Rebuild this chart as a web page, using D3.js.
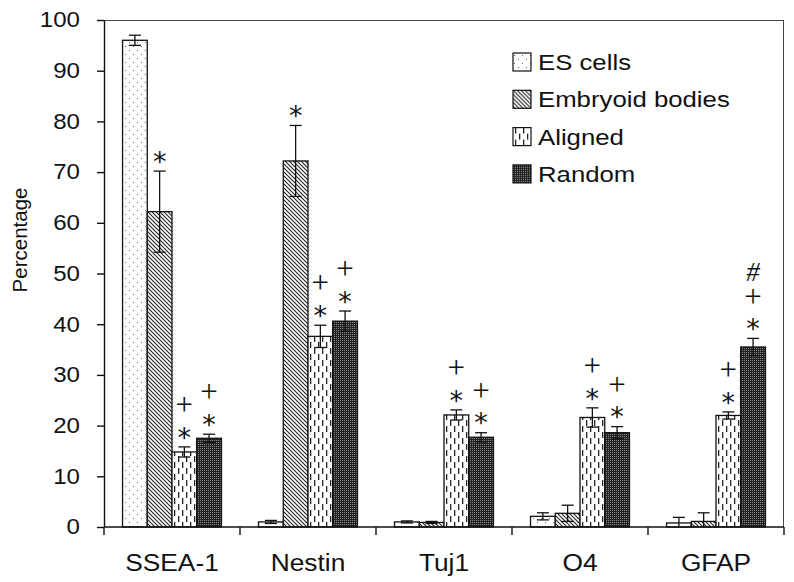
<!DOCTYPE html>
<html>
<head>
<meta charset="utf-8">
<script src="https://cdn.jsdelivr.net/npm/d3@7"></script>
<style>
  html, body { margin: 0; padding: 0; background: #fff; }
  svg { display: block; }
  text { font-family: "Liberation Sans", Arial, sans-serif; fill: #111; }
</style>
</head>
<body>
<svg id="chart" width="794" height="582"></svg>
<script>
// ---- data ----
const categories = ["SSEA-1", "Nestin", "Tuj1", "O4", "GFAP"];
const seriesNames = ["ES cells", "Embryoid bodies", "Aligned", "Random"];
const esCells        = [96.0, 1.0, 1.0, 2.1, 0.8];
const embryoidBodies = [62.2, 72.2, 0.9, 2.7, 1.1];
const aligned        = [14.8, 37.6, 22.1, 21.6, 22.0];
const random         = [17.5, 40.6, 17.7, 18.6, 35.5];
const esErr          = [1.0, 0.3, 0.2, 0.7, 1.1];
const ebErr          = [8.0, 7.0, 0.2, 1.6, 1.7];
const alignedErr     = [1.0, 2.2, 1.0, 1.9, 0.7];
const randomErr      = [0.8, 2.0, 0.9, 1.2, 1.7];
// significance marks, listed bottom-to-top above each bar
const esMarks        = ["", "", "", "", ""];
const ebMarks        = ["*", "*", "", "", ""];
const alignedMarks   = ["*+", "*+", "*+", "*+", "*+"];
const randomMarks    = ["*+", "*+", "*+", "*+", "*+#"];
const yTicks = [0, 10, 20, 30, 40, 50, 60, 70, 80, 90, 100];
const yLabel = "Percentage";

const values = [esCells, embryoidBodies, aligned, random];
const errors = [esErr, ebErr, alignedErr, randomErr];
const marks  = [esMarks, ebMarks, alignedMarks, randomMarks];
const patternIds = ["pES", "pEB", "pAL", "pRA"];

// ---- layout ----
const svg = d3.select("#chart");
const mLeft = 104, mRight = 784, mTop = 20, mBottom = 527;
const stretch = 1.12; // horizontal text stretch seen in the reference

const x = d3.scaleBand().domain(categories).range([mLeft, mRight]).paddingInner(0).paddingOuter(0);
const xs = d3.scaleBand().domain(seriesNames).range([0, x.bandwidth()]).paddingInner(0).paddingOuter(0.75);
const y = d3.scaleLinear().domain([0, 100]).range([mBottom, mTop]);

// ---- patterns ----
const defs = svg.append("defs");
let p = defs.append("pattern").attr("id", "pES").attr("patternUnits", "userSpaceOnUse").attr("width", 8).attr("height", 8);
p.append("rect").attr("width", 8).attr("height", 8).attr("fill", "#fff");
p.append("rect").attr("x", 1).attr("y", 2).attr("width", 1).attr("height", 1).attr("fill", "#666");
p.append("rect").attr("x", 5).attr("y", 6).attr("width", 1).attr("height", 1).attr("fill", "#666");
p = defs.append("pattern").attr("id", "pEB").attr("patternUnits", "userSpaceOnUse").attr("width", 4).attr("height", 4);
p.append("rect").attr("width", 4).attr("height", 4).attr("fill", "#fff");
p.append("path").attr("d", "M-1,-1 L5,5 M-1,3 L1,5 M3,-1 L5,1").attr("stroke", "#222").attr("stroke-width", 1.1);
p = defs.append("pattern").attr("id", "pAL").attr("patternUnits", "userSpaceOnUse").attr("width", 8).attr("height", 12);
p.append("rect").attr("width", 8).attr("height", 12).attr("fill", "#fff");
p.append("rect").attr("x", 2).attr("y", 0).attr("width", 1.3).attr("height", 6).attr("fill", "#222");
p.append("rect").attr("x", 6).attr("y", 6).attr("width", 1.3).attr("height", 6).attr("fill", "#222");
p = defs.append("pattern").attr("id", "pRA").attr("patternUnits", "userSpaceOnUse").attr("width", 2).attr("height", 2);
p.append("rect").attr("width", 2).attr("height", 2).attr("fill", "#222");
p.append("rect").attr("x", 0).attr("y", 0).attr("width", 1).attr("height", 1).attr("fill", "#8a8a8a");

// ---- frame (top & right) ----
svg.append("line").attr("x1", mLeft).attr("x2", mRight).attr("y1", mTop + 0.5).attr("y2", mTop + 0.5).attr("stroke", "#444").attr("stroke-width", 1);
svg.append("line").attr("x1", mRight - 0.5).attr("x2", mRight - 0.5).attr("y1", mTop).attr("y2", mBottom).attr("stroke", "#444").attr("stroke-width", 1);

// ---- y axis ----
const yAxis = svg.append("g").attr("transform", `translate(${mLeft},0)`)
  .call(d3.axisLeft(y).tickValues(yTicks).tickSize(7).tickSizeOuter(0).tickPadding(14.5));
yAxis.select(".domain").attr("stroke", "#111").attr("stroke-width", 1.4);
yAxis.selectAll(".tick line").attr("stroke", "#111").attr("stroke-width", 1.4);
yAxis.selectAll("text").style("font-size", "21.5px").style("font-family", "'Liberation Sans', Arial, sans-serif")
  .attr("fill", "#111").attr("transform", `scale(${stretch},1)`);

svg.append("text").attr("transform", `translate(27,240) rotate(-90)`)
  .attr("text-anchor", "middle").style("font-size", "20.5px").text(yLabel);

// ---- bars ----
const barData = [];
categories.forEach((c, ci) => {
  seriesNames.forEach((s, si) => {
    barData.push({ cat: c, ser: s, si, v: values[si][ci], e: errors[si][ci], m: marks[si][ci] });
  });
});

const g = svg.append("g");
g.selectAll("rect.bar").data(barData).join("rect")
  .attr("class", "bar")
  .attr("x", d => x(d.cat) + xs(d.ser))
  .attr("y", d => y(d.v))
  .attr("width", xs.bandwidth())
  .attr("height", d => y(0) - y(d.v))
  .attr("fill", d => `url(#${patternIds[d.si]})`)
  .attr("stroke", "#111").attr("stroke-width", 1.3);

const capW = 12;
const cx = d => x(d.cat) + xs(d.ser) + xs.bandwidth() / 2;
const eb = g.selectAll("g.err").data(barData).join("g").attr("class", "err");
eb.append("line")
  .attr("x1", cx).attr("x2", cx)
  .attr("y1", d => y(Math.max(0, d.v - d.e)))
  .attr("y2", d => y(d.v + d.e))
  .attr("stroke", "#111").attr("stroke-width", 1.3);
eb.append("line")
  .attr("x1", d => cx(d) - capW / 2).attr("x2", d => cx(d) + capW / 2)
  .attr("y1", d => y(d.v + d.e)).attr("y2", d => y(d.v + d.e))
  .attr("stroke", "#111").attr("stroke-width", 1.3);
eb.filter(d => d.v - d.e > 0).append("line")
  .attr("x1", d => cx(d) - capW / 2).attr("x2", d => cx(d) + capW / 2)
  .attr("y1", d => y(d.v - d.e)).attr("y2", d => y(d.v - d.e))
  .attr("stroke", "#111").attr("stroke-width", 1.3);

const markStyle = {
  "*": { font: "'DejaVu Sans', sans-serif", size: 27, style: "normal", shift: 0.58, gap: 0 },
  "+": { font: "'Liberation Serif', serif", size: 31, style: "normal", shift: 0.25, gap: 0 },
  "#": { font: "'Liberation Serif', serif", size: 27, style: "italic", shift: 0.33, gap: 3 }
};
const markData = [];
barData.forEach(d => {
  d.m.split("").forEach((ch, k) => markData.push({ d, ch, k }));
});
g.selectAll("text.mark").data(markData).join("text")
  .attr("class", "mark")
  .attr("text-anchor", "middle")
  .attr("x", m => cx(m.d))
  .attr("y", m => y(m.d.v + m.d.e) - 16 - 23.5 * m.k - markStyle[m.ch].gap + markStyle[m.ch].shift * markStyle[m.ch].size)
  .style("font-family", m => markStyle[m.ch].font)
  .style("font-size", m => markStyle[m.ch].size + "px")
  .style("font-style", m => markStyle[m.ch].style)
  .text(m => m.ch);

// ---- x axis ----
svg.append("line").attr("x1", mLeft).attr("x2", mRight).attr("y1", mBottom).attr("y2", mBottom).attr("stroke", "#111").attr("stroke-width", 1.4);
const bounds = categories.map(c => x(c)).concat([mRight]);
svg.selectAll("line.xt").data(bounds).join("line").attr("class", "xt")
  .attr("x1", d => d).attr("x2", d => d).attr("y1", mBottom).attr("y2", mBottom + 8)
  .attr("stroke", "#111").attr("stroke-width", 1.4);
svg.selectAll("text.xl").data(categories).join("text").attr("class", "xl")
  .attr("transform", d => `translate(${x(d) + x.bandwidth() / 2},571) scale(${stretch},1)`)
  .attr("text-anchor", "middle").style("font-size", "23.5px").text(d => d);

// ---- legend ----
const lg = svg.append("g").attr("transform", "translate(513,53)");
const li = lg.selectAll("g").data(seriesNames).join("g").attr("transform", (d, i) => `translate(0,${i * 37.3})`);
li.append("rect").attr("width", 18).attr("height", 18)
  .attr("fill", (d, i) => `url(#${patternIds[i]})`).attr("stroke", "#111").attr("stroke-width", 1.2);
li.append("text").attr("transform", `translate(25,17) scale(${stretch},1)`).style("font-size", "23px").text(d => d);
</script>
</body>
</html>
